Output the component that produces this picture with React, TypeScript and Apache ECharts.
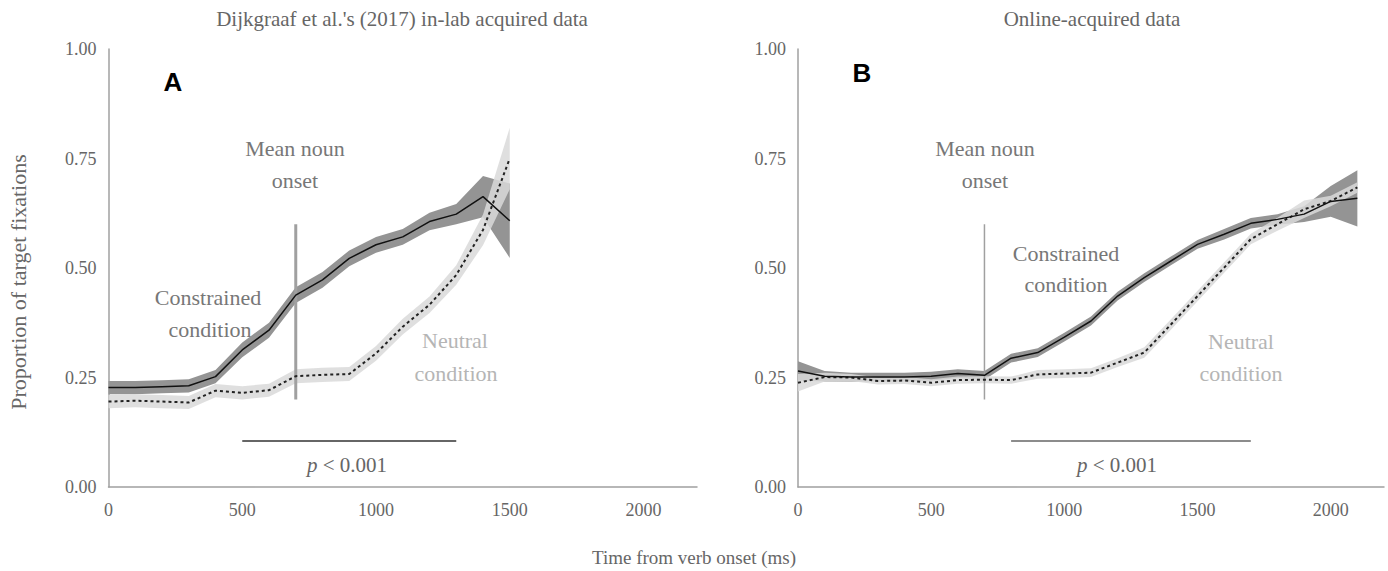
import React, { useEffect, useRef } from "react";
import * as echarts from "echarts";

// ---------- data ----------
const TIME_A = [0, 100, 200, 300, 400, 500, 600, 700, 800, 900, 1000, 1100, 1200, 1300, 1400, 1500];
const CONSTRAINED_A = [0.227, 0.227, 0.229, 0.231, 0.252, 0.313, 0.358, 0.438, 0.473, 0.522, 0.553, 0.571, 0.606, 0.623, 0.663, 0.608];
const CONSTRAINED_A_HW = [0.015, 0.015, 0.015, 0.015, 0.015, 0.017, 0.017, 0.018, 0.018, 0.018, 0.018, 0.018, 0.02, 0.023, 0.047, 0.085];
const NEUTRAL_A = [0.195, 0.197, 0.195, 0.193, 0.22, 0.215, 0.221, 0.253, 0.256, 0.258, 0.305, 0.366, 0.416, 0.484, 0.587, 0.75];
const NEUTRAL_A_HW = [0.015, 0.015, 0.015, 0.015, 0.015, 0.015, 0.015, 0.016, 0.016, 0.016, 0.017, 0.018, 0.019, 0.022, 0.035, 0.07];

const TIME_B = [0, 100, 200, 300, 400, 500, 600, 700, 800, 900, 1000, 1100, 1200, 1300, 1400, 1500, 1600, 1700, 1800, 1900, 2000, 2100];
const CONSTRAINED_B = [0.265, 0.253, 0.251, 0.251, 0.251, 0.253, 0.259, 0.255, 0.294, 0.307, 0.342, 0.379, 0.436, 0.478, 0.516, 0.554, 0.577, 0.602, 0.611, 0.623, 0.652, 0.659];
const CONSTRAINED_B_HW = [0.022, 0.012, 0.01, 0.01, 0.01, 0.01, 0.01, 0.01, 0.01, 0.01, 0.01, 0.01, 0.01, 0.01, 0.01, 0.01, 0.012, 0.012, 0.012, 0.018, 0.035, 0.064];
const NEUTRAL_B = [0.238, 0.251, 0.25, 0.242, 0.243, 0.238, 0.244, 0.245, 0.244, 0.257, 0.259, 0.261, 0.284, 0.307, 0.371, 0.436, 0.501, 0.566, 0.6, 0.634, 0.653, 0.684];
const NEUTRAL_B_HW = [0.02, 0.01, 0.008, 0.008, 0.008, 0.008, 0.008, 0.008, 0.008, 0.01, 0.01, 0.01, 0.01, 0.012, 0.012, 0.012, 0.012, 0.012, 0.015, 0.02, 0.012, 0.012];

const NOUN_ONSET = [700, 700];
const NOUN_ONSET_RANGE = [0.2, 0.6];
const SIG_A = [500, 1300];
const SIG_B = [800, 1700];
const SIG_LEVEL = 0.105;

const X_TICKS = [0, 500, 1000, 1500, 2000];
const X_MAX = 2200;

const SERIF = "Liberation Serif";

function zip(xs: number[], ys: number[]) {
  return xs.map((x, i) => [x, ys[i]]);
}

function band(axis: number, xs: number[], mean: number[], hw: number[], color: string, z: number, opacity = 1) {
  return {
    type: "custom",
    xAxisIndex: axis,
    yAxisIndex: axis,
    data: [[xs[0], mean[0]]],
    silent: true,
    z,
    renderItem: (_params: any, api: any) => {
      const pts: number[][] = [];
      for (let i = 0; i < xs.length; i++) pts.push(api.coord([xs[i], mean[i] + hw[i]]));
      for (let i = xs.length - 1; i >= 0; i--) pts.push(api.coord([xs[i], mean[i] - hw[i]]));
      return { type: "polygon", shape: { points: pts }, style: { fill: color, opacity } };
    },
  };
}

function line(axis: number, data: number[][], color: string, width: number, type: any, z: number) {
  return {
    type: "line",
    xAxisIndex: axis,
    yAxisIndex: axis,
    data,
    showSymbol: false,
    symbol: "none",
    silent: true,
    z,
    lineStyle: { color, width, type },
  };
}

function txt(text: string, x: number, y: number, size: number, color: string, extra: any = {}) {
  return {
    type: "text",
    x,
    y,
    silent: true,
    style: {
      text,
      fill: color,
      fontFamily: SERIF,
      fontSize: size,
      textAlign: "center",
      align: "center",
      textVerticalAlign: "middle",
      verticalAlign: "middle",
      ...extra,
    },
  };
}

function pText(x: number, y: number) {
  return {
    type: "text",
    x,
    y,
    silent: true,
    style: {
      text: "{i|p}{n| < 0.001}",
      fill: "#666",
      fontFamily: SERIF,
      fontSize: 21,
      textAlign: "center",
      align: "center",
      textVerticalAlign: "middle",
      verticalAlign: "middle",
      rich: {
        i: { fontStyle: "italic", fontFamily: SERIF, fontSize: 21, fill: "#666", color: "#666" },
        n: { fontFamily: SERIF, fontSize: 21, fill: "#666", color: "#666" },
      },
    },
  };
}

function xAxis(idx: number) {
  return {
    type: "value",
    gridIndex: idx,
    min: 0,
    max: X_MAX,
    interval: 500,
    axisLine: { show: true, lineStyle: { color: "#a0a0a0", width: 1.5 } },
    axisTick: { show: false },
    splitLine: { show: false },
    axisLabel: {
      color: "#666",
      fontFamily: SERIF,
      fontSize: 18,
      margin: 14,
      formatter: (v: number) => (X_TICKS.includes(v) ? String(v) : ""),
    },
  };
}

function yAxis(idx: number) {
  return {
    type: "value",
    gridIndex: idx,
    min: 0,
    max: 1,
    interval: 0.25,
    axisLine: { show: true, lineStyle: { color: "#a0a0a0", width: 1.5 } },
    axisTick: { show: false },
    splitLine: { show: false },
    axisLabel: {
      color: "#666",
      fontFamily: SERIF,
      fontSize: 18,
      margin: 12,
      formatter: (v: number) => v.toFixed(2),
    },
  };
}

export default function App() {
  const ref = useRef<HTMLDivElement>(null);
  useEffect(() => {
    if (!ref.current) return;
    const chart = echarts.init(ref.current, undefined, { renderer: "svg" });
    const option: any = {
      animation: false,
      backgroundColor: "#ffffff",
      grid: [
        { left: 108.5, top: 49, width: 588.5, height: 438 },
        { left: 798, top: 49, width: 586, height: 438 },
      ],
      xAxis: [xAxis(0), xAxis(1)],
      yAxis: [yAxis(0), yAxis(1)],
      series: [
        band(0, TIME_A, CONSTRAINED_A, CONSTRAINED_A_HW, "#949494", 1),
        band(0, TIME_A, NEUTRAL_A, NEUTRAL_A_HW, "#d9d9d9", 2, 0.85),
        line(0, zip(NOUN_ONSET, NOUN_ONSET_RANGE), "#a0a0a0", 3, "solid", 3),
        line(0, zip(TIME_A, NEUTRAL_A), "#222", 2, [3, 3], 4),
        line(0, zip(TIME_A, CONSTRAINED_A), "#111", 1.5, "solid", 5),
        line(0, zip(SIG_A, [SIG_LEVEL, SIG_LEVEL]), "#666", 2, "solid", 5),

        band(1, TIME_B, CONSTRAINED_B, CONSTRAINED_B_HW, "#949494", 1),
        band(1, TIME_B, NEUTRAL_B, NEUTRAL_B_HW, "#d9d9d9", 2, 0.85),
        line(1, zip(NOUN_ONSET, NOUN_ONSET_RANGE), "#a0a0a0", 1.5, "solid", 3),
        line(1, zip(TIME_B, NEUTRAL_B), "#222", 2, [3, 3], 4),
        line(1, zip(TIME_B, CONSTRAINED_B), "#111", 1.5, "solid", 5),
        line(1, zip(SIG_B, [SIG_LEVEL, SIG_LEVEL]), "#666", 1.5, "solid", 5),
      ],
      graphic: [
        txt("Dijkgraaf et al.'s (2017) in-lab acquired data", 402, 19, 21, "#666"),
        txt("Online-acquired data", 1092, 19, 21, "#666"),
        {
          type: "text",
          x: 18,
          y: 282,
          rotation: Math.PI / 2,
          silent: true,
          style: {
            text: "Proportion of target fixations",
            fill: "#666",
            fontFamily: SERIF,
            fontSize: 22,
            textAlign: "center",
            align: "center",
            textVerticalAlign: "middle",
            verticalAlign: "middle",
          },
        },
        txt("Time from verb onset (ms)", 694, 557, 19, "#666"),
        {
          type: "text",
          x: 173,
          y: 82,
          silent: true,
          style: {
            text: "A",
            fill: "#000",
            fontFamily: "Liberation Sans",
            fontWeight: "bold",
            fontSize: 26,
            textAlign: "center",
            align: "center",
            textVerticalAlign: "middle",
            verticalAlign: "middle",
          },
        },
        {
          type: "text",
          x: 862,
          y: 73,
          silent: true,
          style: {
            text: "B",
            fill: "#000",
            fontFamily: "Liberation Sans",
            fontWeight: "bold",
            fontSize: 26,
            textAlign: "center",
            align: "center",
            textVerticalAlign: "middle",
            verticalAlign: "middle",
          },
        },
        txt("Mean noun", 295, 148, 22, "#777"),
        txt("onset", 295, 180, 22, "#777"),
        txt("Constrained", 208, 297, 22, "#777"),
        txt("condition", 210, 329, 22, "#777"),
        txt("Neutral", 455, 340, 22, "#b5b5b5"),
        txt("condition", 456, 373, 22, "#b5b5b5"),
        pText(347, 465),

        txt("Mean noun", 985, 148, 22, "#777"),
        txt("onset", 985, 180, 22, "#777"),
        txt("Constrained", 1066, 253, 22, "#777"),
        txt("condition", 1066, 284, 22, "#777"),
        txt("Neutral", 1241, 341, 22, "#b5b5b5"),
        txt("condition", 1241, 373, 22, "#b5b5b5"),
        pText(1117, 465),
      ],
    };
    chart.setOption(option);
    return () => chart.dispose();
  }, []);
  return (
    <div
      ref={ref}
      style={{ position: "fixed", left: 0, top: 0, width: 1388, height: 571, background: "#fff" }}
    />
  );
}
